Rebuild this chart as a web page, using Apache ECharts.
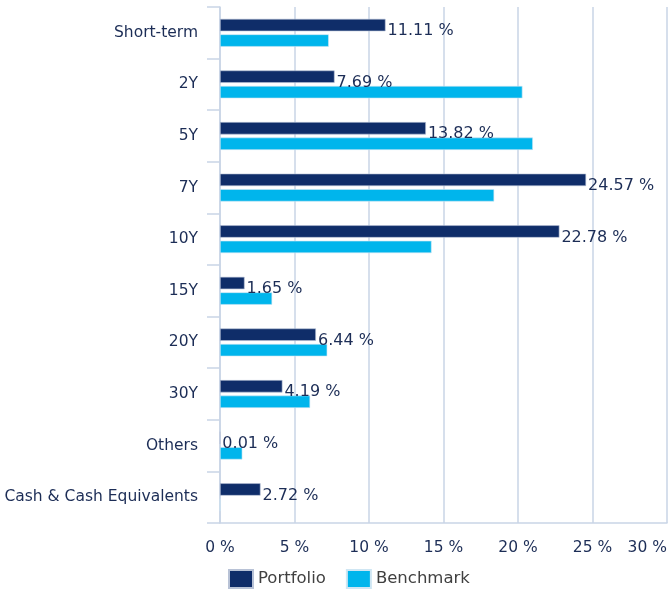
<!DOCTYPE html>
<html>
<head>
<meta charset="utf-8">
<script src="https://cdn.jsdelivr.net/npm/echarts@6/dist/echarts.min.js"></script>
<style>html,body{margin:0;padding:0;background:#fff}#c{width:670px;height:592px}</style>
</head>
<body>
<div id="c"></div>
<script>
const categories = ["Short-term","2Y","5Y","7Y","10Y","15Y","20Y","30Y","Others","Cash & Cash Equivalents"];
const portfolio = [11.11, 7.69, 13.82, 24.57, 22.78, 1.65, 6.44, 4.19, 0.01, 2.72];
const benchmark = [7.3, 20.3, 21.0, 18.4, 14.2, 3.5, 7.2, 6.05, 1.5, 0];
const xTicks = {min: 0, max: 30, interval: 5};

const FONT = "'DejaVu Sans', Verdana, sans-serif";
const TXT = '#1c2d56';
const GRIDC = '#c9d5e6';

const chart = echarts.init(document.getElementById('c'), null, {renderer: 'canvas'});
chart.setOption({
  animation: false,
  textStyle: {fontFamily: FONT},
  grid: {left: 220, right: 2, top: 7, bottom: 69, containLabel: false},
  legend: {
    data: ['Portfolio', 'Benchmark'],
    left: 223, top: 564,
    itemWidth: 24, itemHeight: 18, itemGap: 20,
    icon: 'rect',
    textStyle: {color: '#404040', fontSize: 16.5, fontFamily: FONT}
  },
  xAxis: {
    type: 'value',
    min: xTicks.min, max: xTicks.max, interval: xTicks.interval,
    axisLine: {show: true, lineStyle: {color: GRIDC, width: 1.5}},
    axisTick: {show: false},
    splitLine: {show: true, lineStyle: {color: GRIDC, width: 1.5}},
    axisLabel: {
      formatter: '{value} %', color: TXT, fontSize: 15.5, fontFamily: FONT, margin: 17,
      alignMaxLabel: 'right'
    }
  },
  yAxis: {
    type: 'category',
    data: categories,
    inverse: true,
    axisLine: {show: true, lineStyle: {color: GRIDC, width: 1.5}},
    axisTick: {show: true, length: 13, lineStyle: {color: GRIDC, width: 1.5}},
    axisLabel: {color: TXT, fontSize: 15.5, fontFamily: FONT, margin: 22}
  },
  series: [
    {
      name: 'Portfolio', type: 'bar', data: portfolio,
      barGap: '25%', barCategoryGap: '46%',
      itemStyle: {color: '#0f2d69', borderColor: '#b8c2d6', borderWidth: 0.6},
      label: {
        show: true, position: 'right', distance: 2, offset: [0, 6],
        color: TXT, fontSize: 16, fontFamily: FONT,
        formatter: p => p.value.toFixed(2) + ' %'
      }
    },
    {
      name: 'Benchmark', type: 'bar', data: benchmark,
      itemStyle: {color: '#00b5ec', borderColor: '#cfe6f3', borderWidth: 0.6}
    }
  ]
});
</script>
</body>
</html>
